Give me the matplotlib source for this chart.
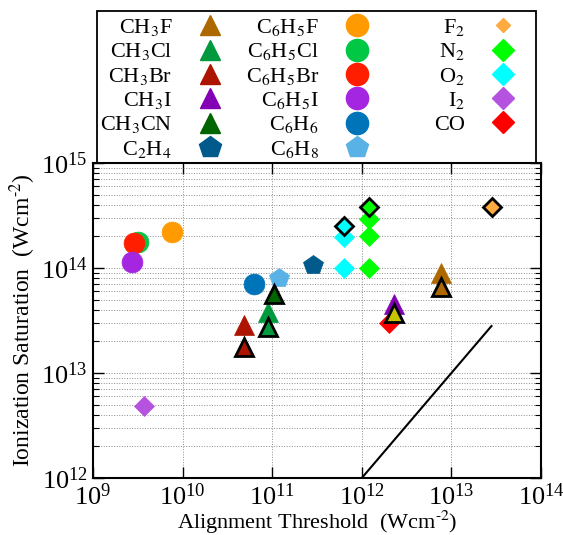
import matplotlib
matplotlib.use('Agg')
import matplotlib.pyplot as plt
from matplotlib.lines import Line2D
from matplotlib.patches import Rectangle

plt.rcParams['font.family'] = ['Liberation Serif', 'DejaVu Serif']
plt.rcParams['mathtext.fontset'] = 'stix'

W, H = 563, 535

# species: label, marker, face colour
LABELS = [r'CH$_3$F', r'CH$_3$Cl', r'CH$_3$Br', r'CH$_3$I', r'CH$_3$CN', r'C$_2$H$_4$',
          r'C$_6$H$_5$F', r'C$_6$H$_5$Cl', r'C$_6$H$_5$Br', r'C$_6$H$_5$I', r'C$_6$H$_6$', r'C$_6$H$_8$',
          r'F$_2$', r'N$_2$', r'O$_2$', r'I$_2$', 'CO']
MARKERS = ['^', '^', '^', '^', '^', 'p',
           'o', 'o', 'o', 'o', 'o', 'p',
           'D', 'D', 'D', 'D', 'D']
COLORS = ['#ad6800', '#00993d', '#ad1400', '#8300b5', '#006400', '#005a8c',
          '#ff9a00', '#00c845', '#ff1e00', '#a526e0', '#0074b8', '#58b2e6',
          '#ffaa40', '#00ff00', '#00ffff', '#b552e0', '#ff0000']

# plain points (x = alignment threshold, y = ionization saturation)
PLAIN_X = [[7.65e12], [9.0e10], [4.8e10], [2.29e12], [], [2.85e11],
           [7.6e9], [3.2e9], [2.9e9], [2.7e9], [6.3e10], [1.19e11],
           [], [1.2e12, 1.2e12, 1.2e12], [6.3e11, 6.3e11], [3.7e9], [2.0e12]]
PLAIN_Y = [[8.95e13], [3.8e13], [2.87e13], [4.5e13], [], [1.07e14],
           [2.2e14], [1.77e14], [1.73e14], [1.14e14], [7.0e13], [8.0e13],
           [], [2.9e14, 2.0e14, 1.0e14], [1.97e14, 1.0e14], [4.85e12], [3.0e13]]

# black-edged points
EDGE_X = [[7.65e12], [9.0e10], [4.8e10], [2.29e12], [1.05e11], [],
          [], [], [], [], [], [],
          [2.84e13], [1.2e12], [6.3e11], [], []]
EDGE_Y = [[6.6e13], [2.74e13], [1.77e13], [3.73e13], [5.65e13], [],
          [], [], [], [], [], [],
          [3.8e14], [3.8e14], [2.51e14], [], []]
EDGE_FACE = {3: '#c8c400'}

LINE_X = [1e12, 2.8e13]
LINE_Y = [1e12, 2.8e13]

SIZES = {'^': 14, 'o': 15, 'D': 10.5, 'p': 15}

fig = plt.figure(figsize=(W / 100, H / 100), dpi=100)
ax = fig.add_axes([93 / W, 1 - 478 / H, 448 / W, 315 / H])
ax.set_xscale('log')
ax.set_yscale('log')
ax.set_xlim(1e9, 1e14)
ax.set_ylim(1e12, 1e15)

ax.grid(True, which='both', linestyle=':', color='#8c8c8c', linewidth=0.7)
ax.set_axisbelow(True)

ax.plot(LINE_X, LINE_Y, color='black', linewidth=1.5, zorder=2)

for i, label in enumerate(LABELS):
    m = MARKERS[i]
    ms = SIZES[m]
    if PLAIN_X[i]:
        ax.plot(PLAIN_X[i], PLAIN_Y[i], linestyle='none', marker=m, markersize=ms,
                markerfacecolor=COLORS[i], markeredgecolor=COLORS[i], markeredgewidth=0.5, zorder=3)
    if EDGE_X[i]:
        ax.plot(EDGE_X[i], EDGE_Y[i], linestyle='none', marker=m, markersize=ms - 1,
                markerfacecolor=EDGE_FACE.get(i, COLORS[i]), markeredgecolor='black',
                markeredgewidth=2, zorder=4)

ax.set_xticks([1e9, 1e10, 1e11, 1e12, 1e13, 1e14])
ax.set_yticks([1e12, 1e13, 1e14, 1e15])
ax.tick_params(which='both', direction='in', top=True, right=True, labelsize=19)
ax.tick_params(which='major', length=8, width=1, pad=4)
ax.tick_params(which='minor', length=4, width=0.8)
for spine in ax.spines.values():
    spine.set_linewidth(1.5)

ax.set_xlabel(r'Alignment Threshold  (Wcm$^{\text{-}2}$)', fontsize=16, labelpad=-1)
ax.set_ylabel(r'Ionization Saturation  (Wcm$^{\text{-}2}$)', fontsize=17, labelpad=2)

# legend: three right-aligned columns inside one frame
handles = []
for i in range(len(LABELS)):
    m = MARKERS[i]
    ms = SIZES[m] + 1
    if LABELS[i] == r'F$_2$':
        ms = 7.5
    handles.append(Line2D([], [], linestyle='none', marker=m, markersize=ms,
                          markerfacecolor=COLORS[i], markeredgecolor=COLORS[i]))

col_right = [221, 368, 514]
groups = [(0, 6), (6, 12), (12, 17)]
for (a, b), xr in zip(groups, col_right):
    fig.legend(handles[a:b], LABELS[a:b], loc='upper right',
               bbox_to_anchor=(xr / W, 1 - 17 / H), frameon=False, markerfirst=False,
               fontsize=16, handlelength=1.0, handletextpad=1.2, labelspacing=0.15,
               borderpad=0, borderaxespad=0)

fig.add_artist(Rectangle((97 / W, 1 - 163 / H), (536 - 97) / W, (163 - 11) / H,
                         transform=fig.transFigure, fill=False, edgecolor='black', linewidth=1.3))

fig.savefig('out.png', dpi=100)
